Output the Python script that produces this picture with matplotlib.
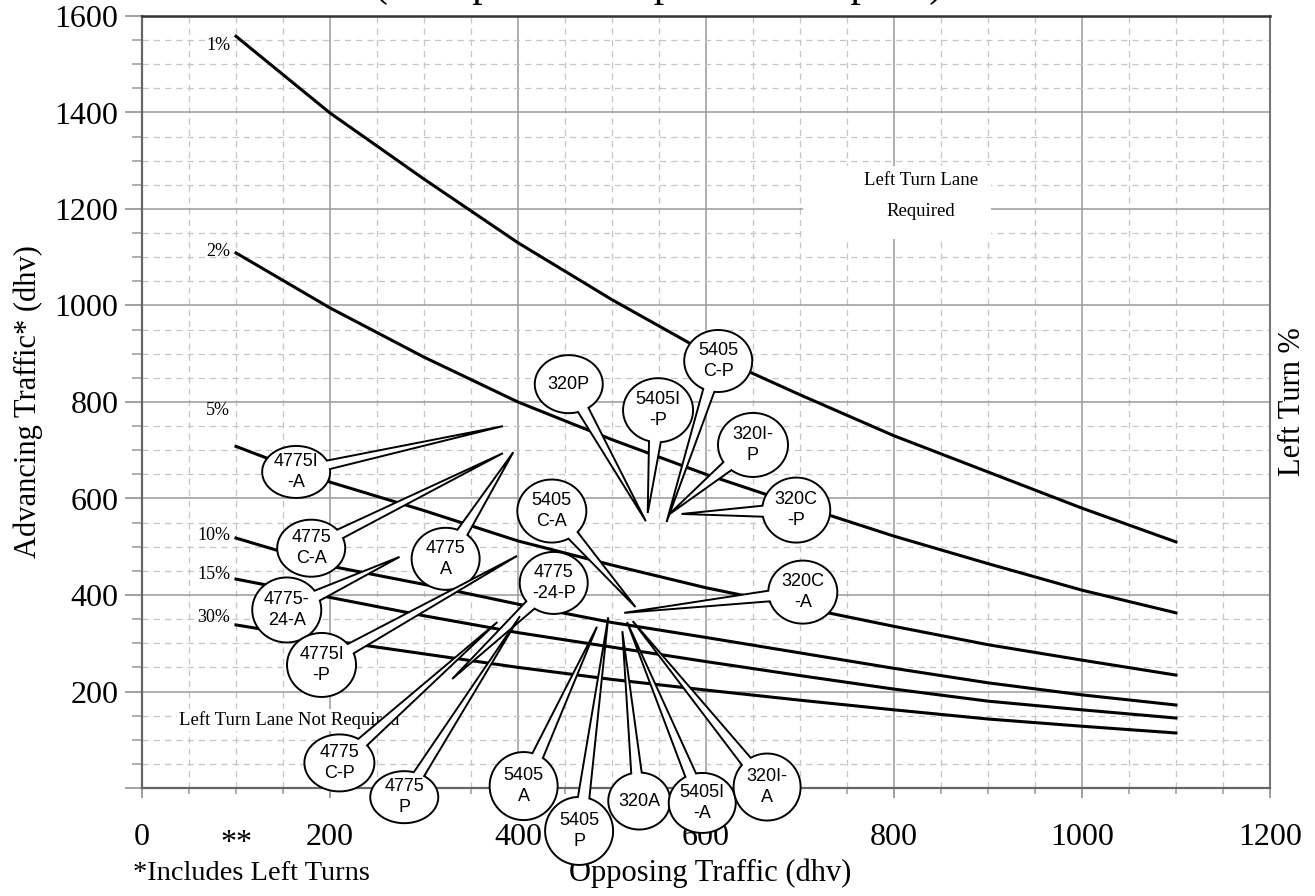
import numpy as np
import matplotlib
matplotlib.use("Agg")
import matplotlib.pyplot as plt
from matplotlib.patches import Polygon, Rectangle
from matplotlib.ticker import MultipleLocator
from matplotlib.transforms import blended_transform_factory

SERIF = ["Liberation Serif", "DejaVu Serif"]
SANS = ["Liberation Sans", "DejaVu Sans"]

# ---- guideline curves: advancing volume vs opposing volume, per left-turn share
opposing = [100, 200, 300, 400, 500, 600, 700, 800, 900, 1000, 1100]
curve_labels = ["1%", "2%", "5%", "10%", "15%", "30%"]
adv_1pct = [1558, 1399, 1262, 1130, 1012, 903, 815, 730, 655, 580, 510]
adv_2pct = [1109, 995, 893, 800, 722, 650, 585, 522, 465, 410, 363]
adv_5pct = [708, 634, 575, 512, 462, 415, 375, 335, 297, 265, 234]
adv_10pct = [518, 460, 422, 381, 343, 312, 280, 248, 218, 193, 172]
adv_15pct = [433, 395, 357, 322, 292, 262, 233, 205, 180, 162, 145]
adv_30pct = [338, 306, 278, 250, 225, 203, 182, 162, 143, 128, 114]
curve_label_y = [1538, 1111, 783, 524, 443, 354]

# ---- intersection observations (opposing dhv, advancing dhv)
site_names = ["4775I\n-A", "4775\nC-A", "4775\nA", "4775-\n24-A", "4775I\n-P",
              "5405\nC-A", "4775\n-24-P", "4775\nC-P", "4775\nP", "5405\nA",
              "5405\nP", "320A", "5405I\n-A", "320I-\nA", "320P",
              "5405I\n-P", "5405\nC-P", "320I-\nP", "320C\n-P", "320C\n-A"]
site_opposing = [384, 384, 395, 274, 399,
                 525, 330, 378, 402, 484,
                 496, 511, 516, 522, 536,
                 538, 558, 560, 574, 513]
site_advancing = [750, 694, 696, 479, 481,
                  375, 226, 344, 356, 334,
                  354, 325, 344, 346, 553,
                  570, 551, 566, 568, 363]

# callout bubble placement (data units) and size (pixels)
bubble_x = [164, 180, 323, 154, 191, 436, 438, 210, 279, 406,
            465, 529, 596, 665, 454, 549, 613, 650, 696, 703]
bubble_y = [655, 497, 475, 369, 255, 574, 425, 52, -19, 4,
            -89, -27, -31, 2, 837, 783, 885, 711, 576, 406]
bubble_w = [68, 68, 68, 69, 69, 69, 68, 70, 68, 68,
            68, 62, 67, 67, 68, 70, 68, 70, 68, 69]
bubble_h = [52, 57, 62, 65, 64, 63, 62, 57, 52, 68,
            68, 57, 60, 67, 58, 64, 62, 64, 65, 63]

W, H = 1315, 896
fig = plt.figure(figsize=(W / 100, H / 100), dpi=100)
ax = fig.add_axes([142 / W, (H - 788) / H, 1128 / W, 772 / H])
ax.set_xlim(0, 1200)
ax.set_ylim(0, 1600)

# grid
ax.set_axisbelow(True)
ax.xaxis.set_major_locator(MultipleLocator(200))
ax.yaxis.set_major_locator(MultipleLocator(200))
ax.xaxis.set_minor_locator(MultipleLocator(50))
ax.yaxis.set_minor_locator(MultipleLocator(50))
ax.grid(which="major", color="#9a9a9a", lw=1.1, ls="-")
ax.grid(which="minor", color="#c6c6c6", lw=0.9, ls=(0, (5, 4)))

for side in ("left", "bottom"):
    ax.spines[side].set_color("#666666")
    ax.spines[side].set_linewidth(1.6)
ax.spines["top"].set_color("#333333")
ax.spines["top"].set_linewidth(1.8)
ax.spines["right"].set_color("#777777")
ax.spines["right"].set_linewidth(1.5)

ax.tick_params(axis="y", which="major", length=12, width=1.1, color="#888888",
               pad=5, labelsize=23)
ax.tick_params(axis="y", which="minor", length=7, width=1.1, color="#999999")
ax.tick_params(axis="x", which="major", length=7, width=1.1, color="#888888",
               pad=18, labelsize=23)
ax.tick_params(axis="x", which="minor", length=4.5, width=1.1, color="#999999")
ax.set_yticks(range(0, 1601, 200))
ax.set_yticklabels([""] + [str(v) for v in range(200, 1601, 200)])
for lab in ax.get_xticklabels() + ax.get_yticklabels():
    lab.set_family(SERIF)

trans_xa = blended_transform_factory(ax.transData, ax.transAxes)
ax.text(100, -0.053, "**", transform=trans_xa, ha="center", va="top",
        fontsize=23, family=SERIF)

# axis titles and footnote
ax.text(-0.101, 0.5, "Advancing Traffic* (dhv)", transform=ax.transAxes,
        rotation=90, ha="center", va="center", fontsize=22, family=SERIF)
ax.text(1.020, 0.5, "Left Turn %", transform=ax.transAxes,
        rotation=90, ha="center", va="center", fontsize=22, family=SERIF)
ax.text(0.504, -0.111, "Opposing Traffic (dhv)", transform=ax.transAxes,
        ha="center", va="center", fontsize=22, family=SERIF)
ax.text(-0.008, -0.111, "*Includes Left Turns", transform=ax.transAxes,
        ha="left", va="center", fontsize=20.5, family=SERIF)
fig.text(374 / W, 1 + 4 / H, "(45 mph or 50 mph Posted Speed)", ha="left",
         va="baseline", fontsize=30, family=SERIF)

# region notes
ax.add_patch(Rectangle((703, 1138), 200, 152, facecolor="white",
                       edgecolor="none", zorder=1))
ax.text(829, 1227, "Left Turn Lane\nRequired", ha="center", va="center",
        fontsize=13.5, family=SERIF, linespacing=2.05, zorder=2)
ax.text(157, 141, "Left Turn Lane Not Required", ha="center", va="center",
        fontsize=13.5, family=SERIF, zorder=2,
        bbox=dict(facecolor="white", edgecolor="none", pad=1.5))

# guideline curves
series = [adv_1pct, adv_2pct, adv_5pct, adv_10pct, adv_15pct, adv_30pct]
for vals, lab, ly in zip(series, curve_labels, curve_label_y):
    ax.plot(opposing, vals, color="black", lw=2.2, solid_joinstyle="round",
            zorder=3)
    ax.text(94, ly, lab, ha="right", va="center", fontsize=13, family=SERIF,
            zorder=3)

# callout bubbles pointing at each observation
fig.canvas.draw()
to_px = ax.transData
to_data = ax.transData.inverted()
for i, name in enumerate(site_names):
    cx, cy = to_px.transform((bubble_x[i], bubble_y[i]))
    tx, ty = to_px.transform((site_opposing[i], site_advancing[i]))
    a, b = bubble_w[i] / 2, bubble_h[i] / 2
    t0 = np.arctan2((ty - cy) / b, (tx - cx) / a)
    dt = 0.17
    t = np.linspace(t0 + dt, t0 + 2 * np.pi - dt, 160)
    pts = np.column_stack([cx + a * np.cos(t), cy + b * np.sin(t)])
    pts = np.vstack([pts, [tx, ty]])
    poly = Polygon(to_data.transform(pts), closed=True, facecolor="white",
                   edgecolor="black", lw=1.4, joinstyle="miter",
                   clip_on=False, zorder=6 + i * 0.01)
    ax.add_patch(poly)
    ax.text(bubble_x[i], bubble_y[i], name, ha="center", va="center",
            fontsize=13, family=SANS, linespacing=1.3, clip_on=False,
            zorder=6 + i * 0.01 + 0.005)

fig.savefig("out.png", dpi=100)
